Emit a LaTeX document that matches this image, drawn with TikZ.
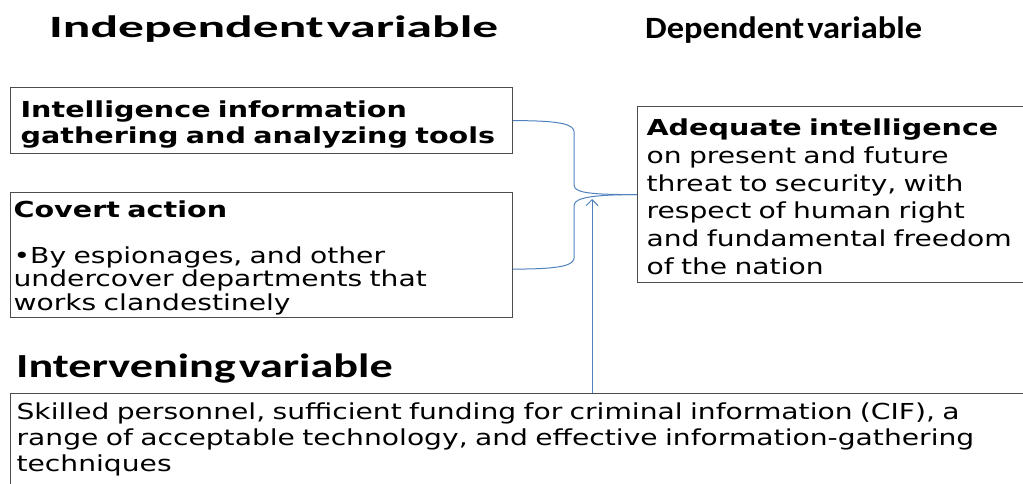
\documentclass[tikz,border=0pt]{standalone}
\usepackage{fontspec}
\usepackage{tikz}
\usepackage{xcolor}
\usetikzlibrary{positioning, arrows.meta, calc}

\newfontfamily\boxfont{DejaVu Sans}[FakeStretch=1.28,
  BoldFeatures={FakeStretch=1.30}]
\newfontfamily\indepfont{Carlito Bold}[FakeStretch=1.66]
\newfontfamily\depfont{Carlito Bold}[FakeStretch=1.11]
\newfontfamily\intervfont{Carlito Bold}[FakeStretch=1.37]
\newcommand\tightspace{\spaceskip=3pt\relax}
\newcommand\lift[1]{\rule{0pt}{#1}}
\definecolor{linkblue}{RGB}{79,129,189}

\begin{document}
\begin{tikzpicture}[
    x=1pt, y=-1pt,
    box/.style={rectangle, draw=black!70, line width=1.2pt, anchor=north
      west, align=left, inner ysep=0pt},
    title/.style={anchor=base west, inner sep=0pt},
    link/.style={draw=linkblue, line width=1pt},
    arrow/.style={link, -{Straight Barb[length=6pt, width=12pt]}}
    ]
    \useasboundingbox (0,0) rectangle (1023,483);

    % Titres
    \node[title, font=\indepfont\fontsize{31}{36}\selectfont]
    (indepVar) at (49,37) {\tightspace Independent variable};
    \node[title, font=\depfont\fontsize{31}{36}\selectfont]
    (depVar) at (645,38.5) {\tightspace Dependent variable};
    \node[title, font=\intervfont\fontsize{33.7}{38}\selectfont]
    (intervVar) at (16,377) {\tightspace Intervening variable};

    % Variables independantes
    \node[box, inner xsep=10pt, text width=482pt, minimum height=66pt,
      font=\boxfont\fontsize{22}{26.5}\selectfont] (Tools) at (10,87)
    {\lift{25pt}\bfseries Intelligence information\\ gathering and
      analyzing tools};

    \node[box, inner xsep=3pt, text width=496pt, minimum height=125pt,
      font=\boxfont\fontsize{22}{23.5}\selectfont] (CovertAction) at (10,192)
    {\lift{22pt}{\bfseries Covert action}\\[22.5pt] •By espionages, and
      other\\ undercover departments that\\ works clandestinely};

    % Variable dependante
    \node[box, inner xsep=9pt, text width=420pt, minimum height=176pt,
      font=\boxfont\fontsize{22}{27.8}\selectfont] (Adequate) at (637,106)
    {\lift{21pt}{\bfseries Adequate intelligence}\\ on present and
      future\\ threat to security, with\\ respect of human right\\ and
      fundamental freedom\\ of the nation};

    % Variable intermediaire
    \node[box, inner xsep=6pt, text width=1020pt, minimum height=92pt,
      font=\boxfont\fontsize{22}{26}\selectfont] (Skilled) at (10,393)
    {Skilled personnel, sufficient funding for criminal information (CIF), a\\
      range of acceptable technology, and effective information-gathering\\
      techniques};

    % Liens
    \draw[link] (Tools.east) .. controls +(50,0) and +(0,-8) .. ++(61,12)
    -- ++(0,53) .. controls +(0,8) and +(-40,0) .. (Adequate.west);
    \draw[link] ([yshift=-14pt]CovertAction.east) .. controls +(50,0) and
    +(0,8) .. ++(61,-12) -- ++(0,-52) .. controls +(0,-8) and +(-40,0)
    .. (Adequate.west);

    \coordinate (tip) at (592,199);
    \draw[arrow] (tip |- Skilled.north) -- (tip);

  \end{tikzpicture}
\end{document}
